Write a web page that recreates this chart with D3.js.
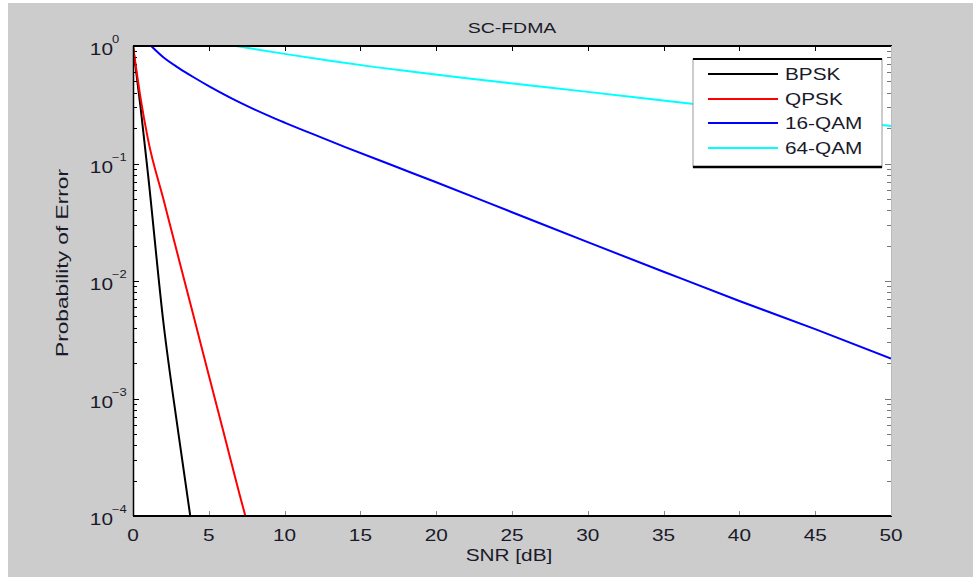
<!DOCTYPE html>
<html>
<head>
<meta charset="utf-8">
<script src="https://cdn.jsdelivr.net/npm/d3@7"></script>
<style>
  html, body { margin: 0; padding: 0; background: #ffffff; }
  svg { display: block; }
  text { font-family: "Liberation Sans", Arial, sans-serif; fill: #1a1a2a; }
</style>
</head>
<body>
<svg id="chart" width="973" height="577"></svg>
<script>
// ---- data ----
const title = "SC-FDMA";
const xLabel = "SNR [dB]";
const yLabel = "Probability of Error";
const seriesNames = ["BPSK", "QPSK", "16-QAM", "64-QAM"];
const seriesColors = ["#000000", "#ff0000", "#0000ff", "#00ffff"];

const bpskSnr = [0, 0.5, 1, 2, 3, 4];
const bpskPe  = [1.0, 0.30, 0.079, 0.0045, 0.0005, 0.000063];

const qpskSnr = [0, 0.5, 1, 2, 3, 4, 5, 6, 7, 8];
const qpskPe  = [1.0, 0.36, 0.158, 0.05, 0.0158, 0.005, 0.00158, 0.0005, 0.000158, 0.000052];

const qam16Snr = [1.2, 2, 3, 4, 5, 6, 7, 8, 9, 10, 12, 14, 17.4, 20, 25, 30, 35, 40, 45, 50];
const qam16Pe  = [1.0, 0.802, 0.652, 0.542, 0.456, 0.388, 0.333, 0.289, 0.253, 0.223, 0.175, 0.138,
                  0.0933, 0.0692, 0.0385, 0.0214, 0.0120, 0.00676, 0.00389, 0.00219];

const qam64Snr = [6.8, 10, 13, 16, 19, 22, 25.5, 30, 36.7, 43, 50];
const qam64Pe  = [1.0, 0.857, 0.748, 0.661, 0.592, 0.532, 0.473, 0.407, 0.324, 0.263, 0.209];

const xTicks = [0, 5, 10, 15, 20, 25, 30, 35, 40, 45, 50];
const yDecades = [0, -1, -2, -3, -4];

// ---- layout ----
const svg = d3.select("#chart");
const L = 133, R = 891, T = 46, B = 516;
const SX = 1.3; // horizontal stretch of the reference text

svg.append("rect").attr("x", 8).attr("y", 3).attr("width", 965).attr("height", 574).attr("fill", "#cccccc");
svg.append("rect").attr("x", L).attr("y", T).attr("width", R - L).attr("height", B - T).attr("fill", "#ffffff");

const x = d3.scaleLinear().domain([0, 50]).range([L, R]);
const y = d3.scaleLog().domain([1e-4, 1]).range([B, T]);

function sText(parent, px, py, str, size, anchor) {
  return parent.append("text")
    .attr("transform", `translate(${px},${py}) scale(${SX},1)`)
    .attr("text-anchor", anchor || "start")
    .attr("font-size", size)
    .text(str);
}

// ticks
const tickG = svg.append("g").attr("stroke", "#000").attr("stroke-width", 1);
xTicks.forEach(v => {
  const px = Math.round(x(v)) + 0.5;
  tickG.append("line").attr("x1", px).attr("x2", px).attr("y1", T).attr("y2", T + 5);
  tickG.append("line").attr("x1", px).attr("x2", px).attr("y1", B).attr("y2", B - 5).attr("stroke", "#888");
});
yDecades.forEach(e => {
  for (let m = 1; m <= 9; m++) {
    const v = m * Math.pow(10, e);
    if (v > 1 + 1e-9 || v < 1e-4 - 1e-12) continue;
    const py = Math.round(y(v)) + 0.5;
    const len = m === 1 ? 6 : 4;
    tickG.append("line").attr("x1", L).attr("x2", L + len).attr("y1", py).attr("y2", py);
    tickG.append("line").attr("x1", R).attr("x2", R - len).attr("y1", py).attr("y2", py).attr("stroke", "#777");
  }
});

// x tick labels
const labG = svg.append("g");
xTicks.forEach(v => sText(labG, x(v), 541, String(v), 16, "middle"));

// y tick labels 10^e
yDecades.forEach(e => {
  const py = y(Math.pow(10, e));
  sText(labG, 113, py + 9, "10", 16, "end");
  sText(labG, 112, py - 3, String(e).replace("-", "\u2212"), 10, "start");
});

// lines
svg.append("clipPath").attr("id", "clip")
  .append("rect").attr("x", L).attr("y", T - 1).attr("width", R - L).attr("height", B - T + 1);

const allSnr = [bpskSnr, qpskSnr, qam16Snr, qam64Snr];
const allPe = [bpskPe, qpskPe, qam16Pe, qam64Pe];
const line = d3.line().x(d => x(d[0])).y(d => y(d[1])).curve(d3.curveMonotoneX);
const lineG = svg.append("g").attr("clip-path", "url(#clip)");
allSnr.forEach((s, i) => {
  const pts = s.map((v, k) => [v, allPe[i][k]]);
  lineG.append("path").datum(pts)
    .attr("d", line)
    .attr("fill", "none")
    .attr("stroke", seriesColors[i])
    .attr("stroke-width", 2)
    .attr("stroke-linejoin", "round");
});

// axes frame
svg.append("line").attr("x1", L).attr("x2", R + 1).attr("y1", T).attr("y2", T).attr("stroke", "#000").attr("stroke-width", 2);
svg.append("line").attr("x1", L).attr("x2", R + 1).attr("y1", B).attr("y2", B).attr("stroke", "#000").attr("stroke-width", 2);
svg.append("line").attr("x1", L + 0.5).attr("x2", L + 0.5).attr("y1", T).attr("y2", B).attr("stroke", "#000").attr("stroke-width", 1.5);
svg.append("line").attr("x1", R + 0.5).attr("x2", R + 0.5).attr("y1", T).attr("y2", B).attr("stroke", "#bbbbbb").attr("stroke-width", 1);

// legend
const lg = svg.append("g");
const lgL = 693, lgR = 882, lgT = 59, lgB = 167;
lg.append("rect").attr("x", lgL).attr("y", lgT).attr("width", lgR - lgL).attr("height", lgB - lgT)
  .attr("fill", "#ffffff").attr("stroke", "#999").attr("stroke-width", 1);
lg.append("line").attr("x1", lgL).attr("x2", lgR).attr("y1", lgT).attr("y2", lgT).attr("stroke", "#000").attr("stroke-width", 2);
lg.append("line").attr("x1", lgL).attr("x2", lgR).attr("y1", lgB).attr("y2", lgB).attr("stroke", "#000").attr("stroke-width", 2.5);
const rowY = [74, 99, 123, 148];
seriesNames.forEach((n, i) => {
  lg.append("line").attr("x1", 708).attr("x2", 778).attr("y1", rowY[i]).attr("y2", rowY[i])
    .attr("stroke", seriesColors[i]).attr("stroke-width", 2);
  sText(lg, 785, rowY[i] + 6, n, 16, "start");
});

// title and labels
sText(svg, 512, 33, title, 15, "middle");
sText(svg, 509, 561, xLabel, 16, "middle");
svg.append("text")
  .attr("transform", "translate(68,263) rotate(-90)")
  .attr("text-anchor", "middle")
  .attr("font-size", 16)
  .attr("textLength", 188)
  .attr("lengthAdjust", "spacingAndGlyphs")
  .text(yLabel);
</script>
</body>
</html>
